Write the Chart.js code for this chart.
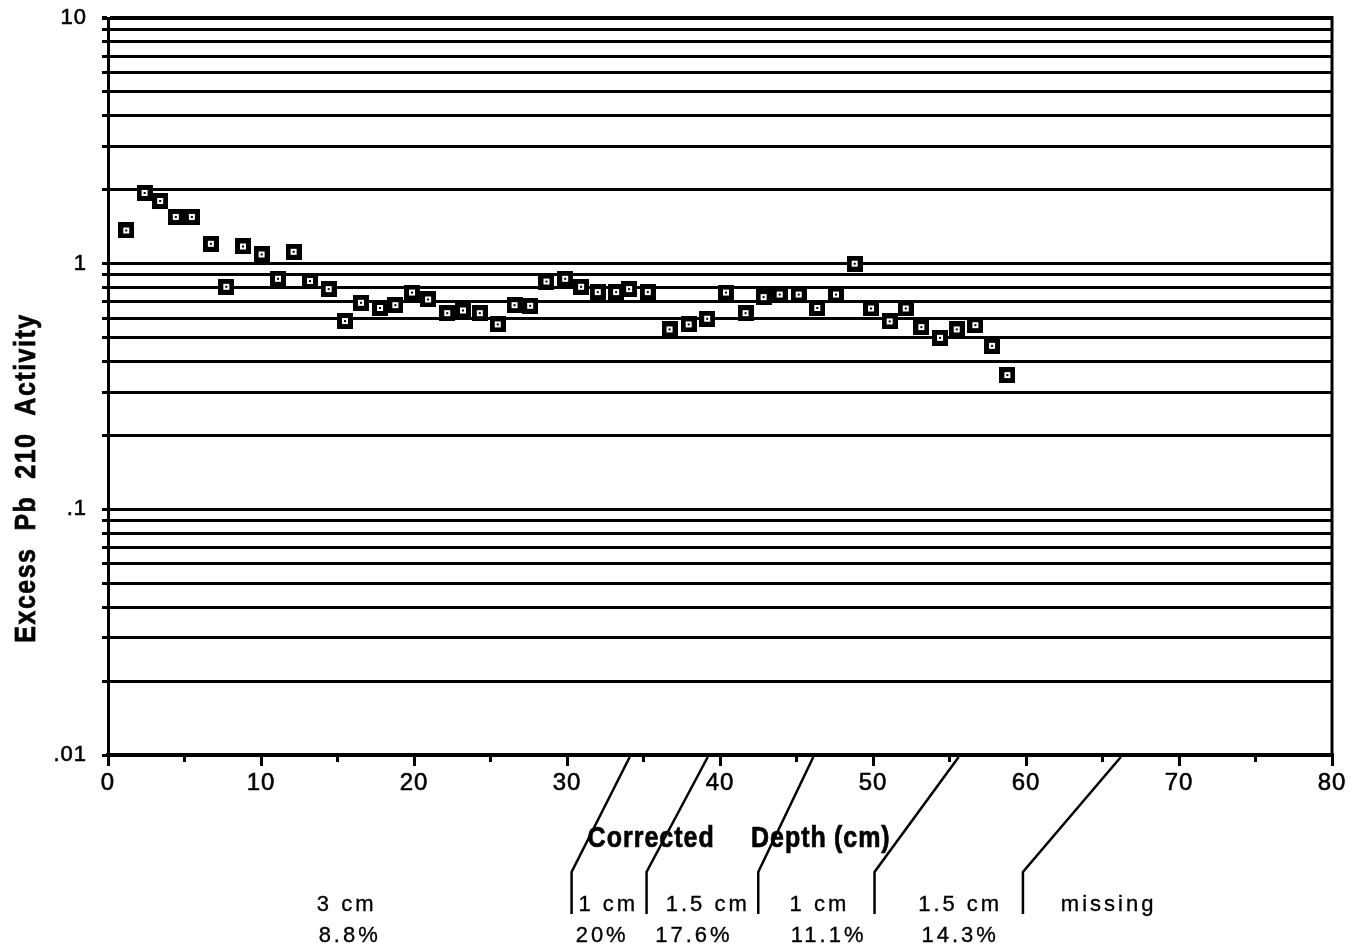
<!DOCTYPE html>
<html>
<head>
<meta charset="utf-8">
<style>
html,body{margin:0;padding:0;background:#fff;}
#wrap{width:1354px;height:948px;}
canvas{display:block;}
</style>
<script src="https://cdn.jsdelivr.net/npm/chart.js@4/dist/chart.umd.min.js"></script>
</head>
<body>
<div id="wrap"><canvas id="c" width="1354" height="948"></canvas></div>
<script>
// ---- data ----
const depth = [1.19, 2.39, 3.41, 4.43, 5.48, 6.72, 7.73, 8.82, 10.04, 11.11,
  12.13, 13.20, 14.42, 15.49, 16.53, 17.78, 18.78, 19.87, 20.92, 22.17,
  23.20, 24.30, 25.47, 26.57, 27.59, 28.66, 29.88, 30.92, 32.01, 33.21,
  34.06, 35.28, 36.70, 37.95, 39.16, 40.39, 41.67, 42.85, 43.90, 45.14,
  46.36, 47.58, 48.80, 49.87, 51.09, 52.14, 53.16, 54.38, 55.47, 56.69,
  57.78, 58.78];
const activity = [1.365, 1.94, 1.80, 1.55, 1.55, 1.205, 0.805, 1.175, 1.09, 0.868,
  1.118, 0.85, 0.788, 0.584, 0.693, 0.66, 0.678, 0.763, 0.715, 0.629,
  0.645, 0.629, 0.566, 0.678, 0.674, 0.846, 0.868, 0.805, 0.766, 0.766,
  0.788, 0.766, 0.540, 0.566, 0.597, 0.763, 0.629, 0.731, 0.749, 0.749,
  0.66, 0.749, 1.0, 0.657, 0.582, 0.657, 0.552, 0.499, 0.540, 0.562,
  0.463, 0.352];

const xTickValues = [0, 10, 20, 30, 40, 50, 60, 70, 80];
const xMinorTicks = [5, 15, 25, 35, 45, 55, 65, 75];
const yMajorValues = [0.01, 0.1, 1, 10];
const yMajorLabels = ['.01', '.1', '1', '10'];
const yMinorMultipliers = [2, 3, 4, 5, 6, 7, 8, 9];

const xTitleWords = ['Corrected', 'Depth', '(cm)'];
const xTitleWordAt = [35.5, 44.5, 49.3];
const yTitle = 'Excess  Pb  210  Activity';

// section connectors: where each slanted line meets the axis, and where it bends
const sectionTop = [34.1, 39.2, 46.1, 55.6, 66.2];
const sectionKnee = [30.3, 35.2, 42.5, 50.1, 59.8];
const sectionThickness = ['3 cm', '1 cm', '1.5 cm', '1 cm', '1.5 cm', 'missing'];
const sectionThicknessAt = [15.5, 32.6, 39.1, 46.4, 55.6, 65.3];
const sectionPercent = ['8.8%', '20%', '17.6%', '11.1%', '14.3%'];
const sectionPercentAt = [15.7, 32.2, 38.2, 47.0, 55.6];

// ---- marker: black square, white inner square, black centre dot ----
const marker = document.createElement('canvas');
marker.width = 16; marker.height = 16;
(function(){
  const m = marker.getContext('2d');
  m.fillStyle = '#000'; m.fillRect(0, 0, 16, 16);
  m.fillStyle = '#fff'; m.fillRect(5, 5, 6, 6);
  m.fillStyle = '#000'; m.fillRect(7, 7, 2, 2);
})();

const FONT = '"Liberation Sans", Arial, Helvetica, sans-serif';

const yTicks = [];
for (let i = 0; i < yMajorValues.length; i++) {
  yTicks.push(yMajorValues[i]);
  if (i < yMajorValues.length - 1) {
    yMinorMultipliers.forEach(k => yTicks.push(+(yMajorValues[i] * k).toPrecision(6)));
  }
}

function heavyText(ctx, t, x, y, w) {
  ctx.fillText(t, x, y);
  if (w > 0) {
    ctx.lineWidth = w;
    ctx.strokeText(t, x, y);
  }
}

const decor = {
  id: 'decor',
  beforeDraw(chart) {
    chart.ctx.letterSpacing = '1px';
  },
  afterDraw(chart) {
    const ctx = chart.ctx;
    const xs = chart.scales.x;
    const a = chart.chartArea;
    ctx.save();
    ctx.letterSpacing = '0px';
    ctx.strokeStyle = '#000';
    ctx.fillStyle = '#000';

    // right frame
    ctx.lineWidth = 3;
    ctx.beginPath();
    ctx.moveTo(a.right, a.top - 2);
    ctx.lineTo(a.right, a.bottom);
    ctx.stroke();

    // minor ticks on x axis
    ctx.lineWidth = 3;
    xMinorTicks.forEach(v => {
      const px = xs.getPixelForValue(v);
      ctx.beginPath();
      ctx.moveTo(px, a.bottom);
      ctx.lineTo(px, a.bottom + 7);
      ctx.stroke();
    });

    // x title
    ctx.font = 'bold 25px ' + FONT;
    ctx.textAlign = 'center';
    ctx.textBaseline = 'alphabetic';
    ctx.letterSpacing = '1px';
    xTitleWords.forEach((w, i) => {
      ctx.save();
      ctx.translate(xs.getPixelForValue(xTitleWordAt[i]), 847);
      ctx.scale(1, 1.2);
      heavyText(ctx, w, 0, 0, 0.6);
      ctx.restore();
    });

    // y title
    ctx.save();
    ctx.translate(35, 478);
    ctx.rotate(-Math.PI / 2);
    ctx.scale(1, 1.2);
    ctx.font = 'bold 25px ' + FONT;
    ctx.textAlign = 'center';
    ctx.letterSpacing = '1.5px';
    heavyText(ctx, yTitle, 0, 0, 0.6);
    ctx.restore();

    // section connectors
    ctx.lineWidth = 2.5;
    ctx.lineJoin = 'miter';
    for (let i = 0; i < sectionTop.length; i++) {
      const tx = xs.getPixelForValue(sectionTop[i]);
      const kx = xs.getPixelForValue(sectionKnee[i]);
      ctx.beginPath();
      ctx.moveTo(tx, a.bottom + 2);
      ctx.lineTo(kx, a.bottom + 117);
      ctx.lineTo(kx, a.bottom + 159);
      ctx.stroke();
    }

    // section labels
    ctx.font = '22px ' + FONT;
    ctx.letterSpacing = '3px';
    ctx.textAlign = 'center';
    sectionThickness.forEach((t, i) => {
      heavyText(ctx, t, xs.getPixelForValue(sectionThicknessAt[i]) + 1.5, 911, 0.35);
    });
    sectionPercent.forEach((t, i) => {
      heavyText(ctx, t, xs.getPixelForValue(sectionPercentAt[i]) + 1.5, 942, 0.35);
    });
    ctx.restore();
  }
};

new Chart(document.getElementById('c'), {
  type: 'scatter',
  data: {
    datasets: [{
      data: depth.map((x, i) => ({ x: x, y: activity[i] })),
      pointStyle: marker,
      pointRadius: 8,
      pointHoverRadius: 8,
      showLine: false
    }]
  },
  options: {
    responsive: false,
    animation: false,
    events: [],
    layout: { padding: { top: 18, right: 22, left: 0, bottom: 0 } },
    plugins: { legend: { display: false }, tooltip: { enabled: false } },
    scales: {
      x: {
        type: 'linear',
        min: 0, max: 80,
        afterBuildTicks: s => { s.ticks = xTickValues.map(v => ({ value: v })); },
        afterFit: s => { s.height = 193; s.paddingLeft = 0; s.paddingRight = 0; },
        ticks: {
          autoSkip: false, maxRotation: 0, padding: 3,
          color: '#000',
          textStrokeColor: '#000', textStrokeWidth: 0.6,
          font: { family: FONT, size: 24 },
          callback: v => String(v)
        },
        grid: { drawOnChartArea: false, drawTicks: true, tickLength: 11, color: '#000', lineWidth: 3 },
        border: { color: '#000', width: 4 }
      },
      y: {
        type: 'logarithmic',
        min: 0.01, max: 10,
        afterBuildTicks: s => { s.ticks = yTicks.map(v => ({ value: v })); },
        afterFit: s => { s.width = 108; s.paddingTop = 0; s.paddingBottom = 0; },
        ticks: {
          autoSkip: false, padding: 15,
          color: '#000',
          textStrokeColor: '#000', textStrokeWidth: 0.6,
          font: { family: FONT, size: 22 },
          callback: v => {
            const i = yMajorValues.findIndex(m => Math.abs(m - v) / m < 1e-6);
            return i >= 0 ? yMajorLabels[i] : '';
          }
        },
        grid: {
          color: '#000',
          lineWidth: c => (c.tick && Math.abs(c.tick.value - 10) < 1e-6) ? 4 : 3,
          tickLength: 6
        },
        border: { color: '#000', width: 3 }
      }
    }
  },
  plugins: [decor]
});
</script>
</body>
</html>
